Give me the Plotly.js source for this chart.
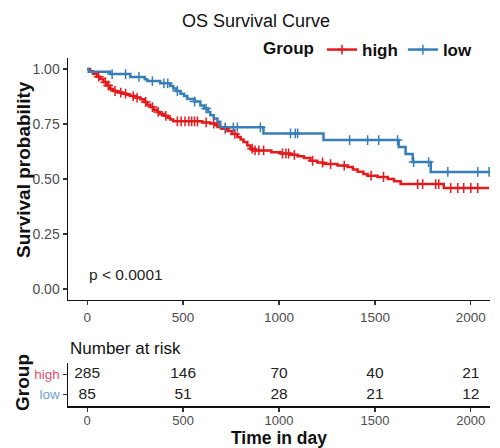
<!DOCTYPE html>
<html><head><meta charset="utf-8">
<script src="https://cdn.plot.ly/plotly-3.0.1.min.js"></script>
<style>html,body{margin:0;padding:0;background:#fff}</style>
</head><body><div id="chart" style="width:500px;height:448px"></div>
<script>
// Kaplan-Meier step data (time in days, survival probability after the step)
const highTime = [0, 15, 30, 50, 68, 85, 100, 120, 136, 160, 185, 209, 225, 250, 277, 295, 313, 329, 345, 365, 381, 400, 420, 433, 449, 600, 642, 665, 679, 700, 731, 755, 783, 800, 815, 835, 851, 870, 960, 1008, 1060, 1097, 1130, 1164, 1200, 1232, 1305, 1358, 1385, 1410, 1440, 1462, 1514, 1567, 1600, 1634, 1859, 2095];
const highSurv = [1.000, 0.990, 0.978, 0.965, 0.955, 0.940, 0.925, 0.909, 0.900, 0.893, 0.888, 0.883, 0.877, 0.870, 0.862, 0.850, 0.838, 0.827, 0.815, 0.805, 0.795, 0.787, 0.778, 0.771, 0.762, 0.757, 0.752, 0.745, 0.736, 0.728, 0.718, 0.705, 0.691, 0.680, 0.668, 0.652, 0.638, 0.630, 0.622, 0.616, 0.610, 0.604, 0.595, 0.583, 0.575, 0.568, 0.561, 0.554, 0.543, 0.533, 0.523, 0.515, 0.509, 0.500, 0.490, 0.477, 0.459, 0.459];
const lowTime = [0, 8, 120, 225, 300, 313, 381, 433, 449, 465, 486, 505, 522, 560, 590, 610, 630, 642, 660, 679, 694, 919, 1232, 1624, 1660, 1697, 1791, 2100];
const lowSurv = [1.000, 0.988, 0.977, 0.964, 0.953, 0.945, 0.935, 0.923, 0.911, 0.900, 0.887, 0.877, 0.864, 0.852, 0.834, 0.820, 0.805, 0.790, 0.775, 0.760, 0.735, 0.707, 0.677, 0.645, 0.614, 0.577, 0.532, 0.532];
// censoring times
const highCensor = [60, 95, 110, 145, 175, 200, 240, 260, 305, 340, 370, 410, 470, 490, 510, 530, 545, 560, 575, 620, 660, 720, 770, 860, 875, 895, 920, 1018, 1036, 1050, 1080, 1175, 1227, 1269, 1340, 1480, 1545, 1723, 1749, 1817, 1833, 1895, 1932, 1963, 2000, 2036];
const lowCensor = [130, 200, 270, 340, 400, 420, 470, 560, 620, 720, 762, 783, 903, 1060, 1085, 1097, 1368, 1462, 1520, 1618, 1702, 1780, 1880, 2036, 2095];
// number at risk table
const riskTimes = [0, 500, 1000, 1500, 2000];
const riskHigh = [285, 146, 70, 40, 21];
const riskLow = [85, 51, 28, 21, 12];
const groups = ["high", "low"];
const xTicks = [0, 500, 1000, 1500, 2000];
const yTicks = [0, 0.25, 0.5, 0.75, 1];

const RED = "#E41A1C", BLUE = "#377EB8";
const FONT = "Liberation Sans, Arial, sans-serif";

function survAt(times, surv, t) {
  let s = surv[0];
  for (let i = 0; i < times.length; i++) { if (times[i] <= t) s = surv[i]; }
  return s;
}

const traces = [
  {x: highTime, y: highSurv, mode: "lines", line: {shape: "hv", color: RED, width: 2.5}, showlegend: false, xaxis: "x", yaxis: "y", hoverinfo: "skip"},
  {x: lowTime, y: lowSurv, mode: "lines", line: {shape: "hv", color: BLUE, width: 2.5}, showlegend: false, xaxis: "x", yaxis: "y", hoverinfo: "skip"},
  {x: highCensor, y: highCensor.map(t => survAt(highTime, highSurv, t)), mode: "markers",
   marker: {symbol: "cross-thin", size: 7, line: {color: RED, width: 1.5}}, showlegend: false, xaxis: "x", yaxis: "y"},
  {x: lowCensor, y: lowCensor.map(t => survAt(lowTime, lowSurv, t)), mode: "markers",
   marker: {symbol: "cross-thin", size: 7, line: {color: BLUE, width: 1.5}}, showlegend: false, xaxis: "x", yaxis: "y"},
  // legend entries
  {x: [null], y: [null], name: groups[0], mode: "lines+markers", line: {color: RED, width: 2.5},
   marker: {symbol: "cross-thin", size: 7, line: {color: RED, width: 1.5}}, xaxis: "x", yaxis: "y"},
  {x: [null], y: [null], name: groups[1], mode: "lines+markers", line: {color: BLUE, width: 2.5},
   marker: {symbol: "cross-thin", size: 7, line: {color: BLUE, width: 1.5}}, xaxis: "x", yaxis: "y"},
  // risk table
  {x: riskTimes, y: riskTimes.map(() => 2), text: riskHigh.map(String), mode: "text", textfont: {family: FONT, size: 15.5, color: "#222"},
   showlegend: false, xaxis: "x2", yaxis: "y2", hoverinfo: "skip"},
  {x: riskTimes, y: riskTimes.map(() => 1), text: riskLow.map(String), mode: "text", textfont: {family: FONT, size: 15.5, color: "#222"},
   showlegend: false, xaxis: "x2", yaxis: "y2", hoverinfo: "skip"}
];

const axisCommon = {showline: true, linecolor: "#111", linewidth: 1.5, ticks: "outside", ticklen: 4, tickcolor: "#333", tickwidth: 1.2,
  showgrid: false, zeroline: false, tickfont: {family: FONT, size: 14, color: "#4d4d4d"}};

const layout = {
  width: 500, height: 448,
  margin: {l: 68, r: 10, t: 0, b: 0, autoexpand: false},
  paper_bgcolor: "#fff", plot_bgcolor: "#fff",
  font: {family: FONT},
  title: {text: "OS Survival Curve", font: {family: FONT, size: 18, color: "#111"}, xref: "container", x: 0.512, xanchor: "center", yref: "container", y: 1 - 21/448, yanchor: "middle"},
  showlegend: true,
  legend: {orientation: "h", xref: "container", yref: "container", x: 0.522, xanchor: "left", y: 1 - 50/448, yanchor: "middle",
    font: {family: FONT, size: 17, color: "#111", weight: "bold"}, itemwidth: 30, tracegroupgap: 0,
    title: {text: "<b>Group</b>", side: "left", font: {family: FONT, size: 17, color: "#111"}}, bgcolor: "rgba(0,0,0,0)"},
  xaxis: Object.assign({}, axisCommon, {domain: [0, 1], range: [-100, 2100], tickvals: xTicks, anchor: "y", automargin: false,
    tickfont: {family: FONT, size: 13.5, color: "#4d4d4d"}}),
  yaxis: Object.assign({}, axisCommon, {domain: [0.3304, 0.8705], range: [-0.05, 1.05], tickvals: yTicks, tickformat: ".2f", anchor: "x", automargin: false}),
  xaxis2: Object.assign({}, axisCommon, {domain: [0, 1], range: [-100, 2100], tickvals: xTicks, anchor: "y2", automargin: false,
    ticklabelstandoff: -2, tickfont: {family: FONT, size: 13, color: "#4d4d4d"}}),
  yaxis2: Object.assign({}, axisCommon, {domain: [1 - 406/448, 1 - 363/448], range: [0.45, 2.55], tickvals: [2, 1], anchor: "x2", automargin: false,
    ticktext: ['<span style="color:#E0526A">high</span>', '<span style="color:#6FA3D6">low</span>'],
    tickfont: {family: FONT, size: 13.5, color: "#4d4d4d"}}),
  annotations: [
    {text: "<b>Survival probability</b>", xref: "paper", yref: "paper", x: (23 - 68) / 422, y: 1 - 170/448, xanchor: "center", yanchor: "middle",
     textangle: -90, showarrow: false, font: {family: FONT, size: 19, color: "#111"}},
    {text: "<b>Group</b>", xref: "paper", yref: "paper", x: (22 - 68) / 422, y: 1 - 383/448, xanchor: "center", yanchor: "middle",
     textangle: -90, showarrow: false, font: {family: FONT, size: 19, color: "#111"}},
    {text: "p < 0.0001", xref: "x", yref: "y", x: 0, y: 0.064, xanchor: "left", yanchor: "middle", showarrow: false,
     font: {family: FONT, size: 15.5, color: "#222"}},
    {text: "Number at risk", xref: "paper", yref: "paper", x: 0, y: 1 - 348/448, xanchor: "left", yanchor: "middle", showarrow: false,
     font: {family: FONT, size: 17, color: "#111"}},
    {text: "<b>Time in day</b>", xref: "paper", yref: "paper", x: (279 - 68) / 422, y: 1 - 437.5/448, xanchor: "center", yanchor: "middle", showarrow: false,
     borderpad: 0, font: {family: FONT, size: 17.5, color: "#111"}}
  ]
};

Plotly.newPlot("chart", traces, layout, {displayModeBar: false, staticPlot: true});
</script>
</body></html>
